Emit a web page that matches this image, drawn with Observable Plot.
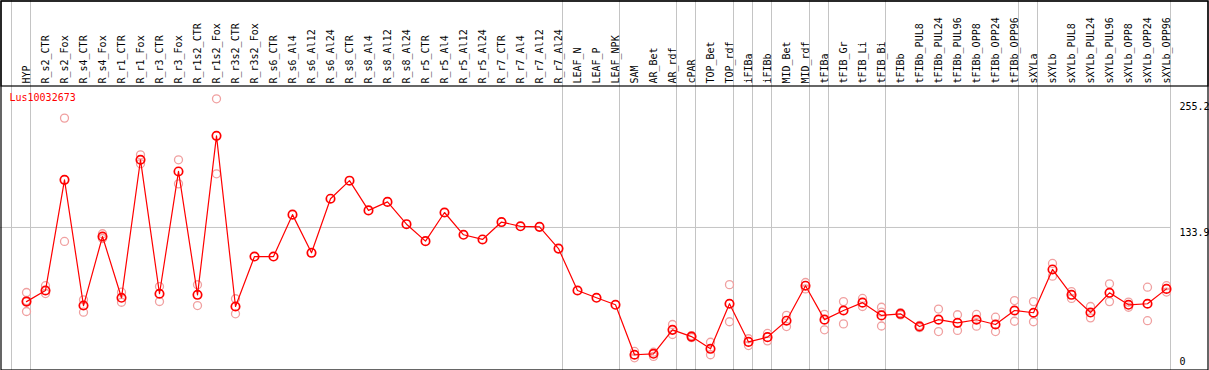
<!DOCTYPE html>
<html>
<head>
<meta charset="utf-8">
<script src="https://cdn.jsdelivr.net/npm/d3@7"></script>
<script src="https://cdn.jsdelivr.net/npm/@observablehq/plot@0.6"></script>
<style>
  html, body { margin: 0; padding: 0; background: #fff; }
  svg { display: block; }
</style>
</head>
<body>
<div id="chart"></div>
<script>
const title = "Lus10032673";
const categories = ["HYP","R_s2_CTR","R_s2_Fox","R_s4_CTR","R_s4_Fox","R_r1_CTR","R_r1_Fox","R_r3_CTR","R_r3_Fox","R_r1s2_CTR","R_r1s2_Fox","R_r3s2_CTR","R_r3s2_Fox","R_s6_CTR","R_s6_Al4","R_s6_Al12","R_s6_Al24","R_s8_CTR","R_s8_Al4","R_s8_Al12","R_s8_Al24","R_r5_CTR","R_r5_Al4","R_r5_Al12","R_r5_Al24","R_r7_CTR","R_r7_Al4","R_r7_Al12","R_r7_Al24","LEAF_N","LEAF_P","LEAF_NPK","SAM","AR_Bet","AR_rdf","cPAR","TOP_Bet","TOP_rdf","iFIBa","iFIBb","MID_Bet","MID_rdf","tFIBa","tFIB_Gr","tFIB_Li","tFIB_Bi","tFIBb","tFIBb_PUL8","tFIBb_PUL24","tFIBb_PUL96","tFIBb_OPP8","tFIBb_OPP24","tFIBb_OPP96","sXYLa","sXYLb","sXYLb_PUL8","sXYLb_PUL24","sXYLb_PUL96","sXYLb_OPP8","sXYLb_OPP24","sXYLb_OPP96"];
const means = [64,74.5,178.8,60.3,125.4,67.6,197.7,71.4,186.7,70.4,220.3,59.4,106.5,106.5,146,110,161,178,150,158,137,121,148,127,122.6,139,135,134.5,114,74.5,67.6,61,13.9,14.8,37.4,31,19.5,62,26,30.5,46,79,47,55.6,63,51,52.5,40.5,47,44,46.9,42.4,55.6,53.5,94.3,70.4,53.7,72.3,61,62,76];
const repA = [72.6,79,237,65.7,128,72.9,202.4,78.2,197.7,79.9,255.2,66.7,null,null,null,null,null,null,null,null,null,null,null,null,null,null,null,null,null,null,null,null,17,16.3,42.4,32,25.7,80,29,34,51,82,52,64,67,58.7,53.5,41.5,57,51.6,51.9,49.3,65,64,100,73.5,59.4,80.8,63.5,77.6,79];
const repB = [54.7,71.6,120.7,54,123.5,63.4,194,64.1,175,60.3,184.5,52.5,null,null,null,null,null,null,null,null,null,null,null,null,null,null,null,null,null,null,null,null,11,12.3,33,30,13.9,45,22.6,27,40.5,76,37.4,43,59.4,41,51.5,39.5,35.8,36.8,40.8,35.8,45.5,45,88,67,48.7,64,58.7,46,73];
const repC = [65,null,null,null,null,null,null,null,null,null,null,null,null,null,null,null,null,null,null,null,null,null,null,null,null,null,null,null,null,null,null,null,null,null,null,null,null,null,null,null,null,null,null,null,null,54,null,null,null,null,null,null,null,null,null,null,null,null,null,null,null];
const groupStarts = ["HYP","R_s2_CTR","LEAF_N","SAM","cPAR","TOP_Bet","iFIBa","iFIBb","MID_Bet","tFIBa","tFIB_Gr","tFIBb","sXYLa","sXYLb"];
const yTicks = [255.2, 133.9, 0];
const gridValues = [133.9];
const yMax = 255.2;

const meanData = categories.map((c, i) => ({c, v: means[i]}));
const repData = categories.flatMap((c, i) =>
  [repA[i], repB[i], repC[i]].filter(v => v != null).map(v => ({c, v})));

const font = "DejaVu Sans Mono";
const grey = "#c4c4c4";
const pink = "#f0a0a0";

const chart = Plot.plot({
  width: 1209,
  height: 370,
  margin: 0,
  style: {fontFamily: font, fontSize: "10px", background: "#fff"},
  x: {type: "point", domain: categories, range: [26, 1166], padding: 0, axis: null},
  y: {domain: [0, yMax], range: [369, 98.3], axis: null},
  marks: [
    Plot.ruleX(groupStarts, {x: d => d, dx: -15, stroke: grey, strokeWidth: 1}),
    Plot.ruleX([categories[categories.length - 1]], {x: d => d, dx: 4, stroke: grey, strokeWidth: 1}),
    Plot.ruleY(gridValues, {y: d => d, stroke: grey, strokeWidth: 1, insetRight: 39}),
    Plot.frame({stroke: "black", strokeWidth: 1.2, insetLeft: 0.5, insetTop: 0.5, insetRight: 1.5, insetBottom: 0.5}),
    Plot.frame({stroke: "black", strokeWidth: 1.2, insetLeft: 0.5, insetTop: 0.5, insetRight: 1.5, insetBottom: 370 - 85.5}),
    Plot.text(categories, {x: d => d, frameAnchor: "top", dy: 83, rotate: -90, textAnchor: "start", lineAnchor: "middle", fill: "black", fontSize: 10}),
    Plot.text([title], {frameAnchor: "top-left", dx: 9, dy: 97, textAnchor: "start", lineAnchor: "middle", fill: "red", fontSize: 10}),
    Plot.text(yTicks, {y: d => d, text: d => String(d), frameAnchor: "right", dx: -30, textAnchor: "start",
      lineAnchor: "middle", fill: "black", fontSize: 10}),
    Plot.dot(repData, {x: "c", y: "v", r: 4, stroke: pink, strokeWidth: 1.3, fill: "none"}),
    Plot.line(meanData, {x: "c", y: "v", stroke: "red", strokeWidth: 1.2}),
    Plot.dot(meanData, {x: "c", y: "v", r: 4.2, stroke: "red", strokeWidth: 1.7, fill: "none"})
  ]
});
document.getElementById("chart").appendChild(chart);

// nudge tick labels: upper labels hang below the value, the zero label sits above it
const shifts = {"255.2": "0.85em", "133.9": "0.55em", "0": "-0.75em"};
d3.select(chart).selectAll("text").each(function () {
  const t = this.textContent;
  if (t in shifts && !this.querySelector("tspan")) d3.select(this).attr("dy", shifts[t]);
});
</script>
</body>
</html>
